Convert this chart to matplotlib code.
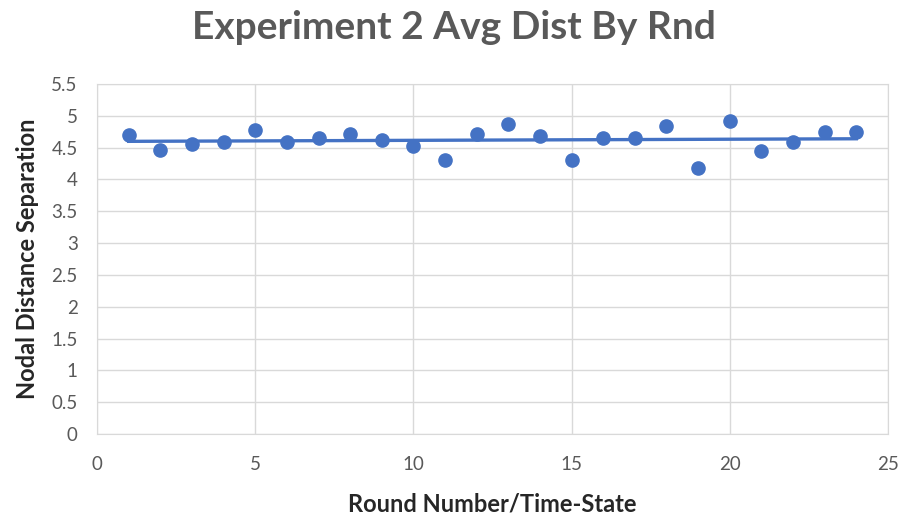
import matplotlib.pyplot as plt
import numpy as np

rounds = list(range(1, 25))
avg_dist = [4.69, 4.46, 4.56, 4.59, 4.78, 4.59, 4.65, 4.71, 4.62, 4.53, 4.31, 4.71,
            4.87, 4.68, 4.31, 4.65, 4.65, 4.84, 4.18, 4.91, 4.44, 4.59, 4.75, 4.75]
x_ticks = [0, 5, 10, 15, 20, 25]
y_ticks = [0, 0.5, 1, 1.5, 2, 2.5, 3, 3.5, 4, 4.5, 5, 5.5]

plt.rcParams['font.family'] = ['Lato', 'DejaVu Sans']

fig = plt.figure(figsize=(9.07, 5.21), dpi=100)
ax = fig.add_axes([0.107, 0.167, 0.872, 0.672])

blue = '#4472C4'
grid = '#D9D9D9'
gray = '#595959'

# linear trendline
slope, intercept = np.polyfit(rounds, avg_dist, 1)
xs = np.array([rounds[0], rounds[-1]])
ax.plot(xs, slope * xs + intercept, color=blue, linewidth=2.4, zorder=2)
ax.plot(rounds, avg_dist, 'o', color=blue, markersize=9.5, zorder=3)

ax.set_xlim(0, 25)
ax.set_ylim(0, 5.5)
ax.set_xticks(x_ticks)
ax.set_yticks(y_ticks)
ax.set_yticklabels([f'{v:g}' for v in y_ticks])
ax.grid(True, color=grid, linewidth=1)
ax.set_axisbelow(True)
for s in ax.spines.values():
    s.set_color(grid)
ax.tick_params(length=0, labelsize=13.5, labelcolor=gray)
ax.tick_params(axis='x', pad=16)
ax.tick_params(axis='y', pad=14)

# title is centred on the figure, not the axes
fig.suptitle('Experiment 2 Avg Dist By Rnd', x=0.5, y=0.948, fontsize=28,
             fontweight='bold', color=gray, va='center')
ax.set_xlabel('Round Number/Time-State', fontsize=17, fontweight='bold',
              color='#262626', labelpad=14)
ax.set_ylabel('Nodal Distance Separation', fontsize=17, fontweight='bold',
              color='#262626', labelpad=9)

fig.savefig('out.png', dpi=100)
